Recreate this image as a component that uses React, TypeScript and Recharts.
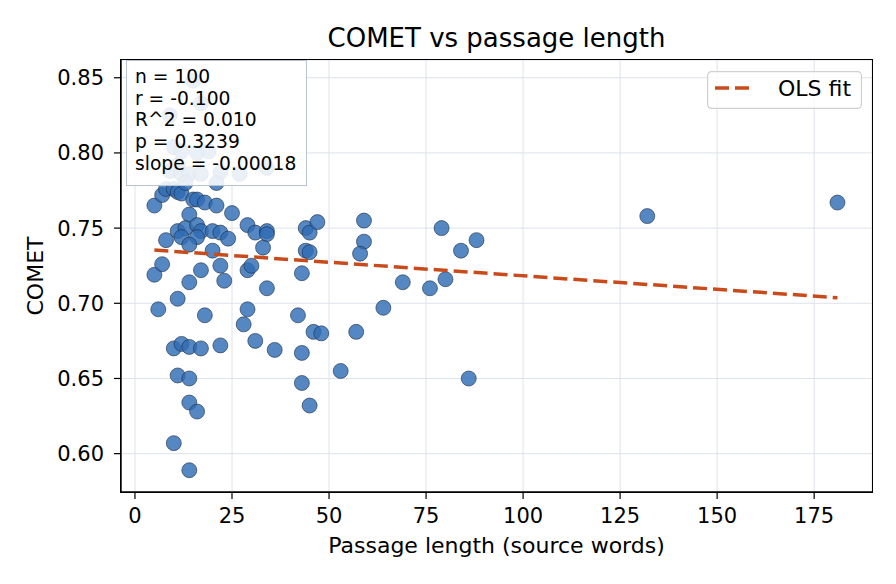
import React from 'react';
import {
  ScatterChart,
  Scatter,
  XAxis,
  YAxis,
  CartesianGrid,
} from 'recharts';

// passage length (source words) per item
const passageLength = [
  5, 5, 6, 7, 7, 8, 8, 10, 11, 12,
  15, 16, 18, 21, 25, 14, 29, 31, 34, 34,
  33, 11, 13, 16, 17, 20, 22, 24, 12, 16,
  14, 20, 17, 22, 14, 23, 29, 30, 34, 43,
  11, 18, 29, 28, 31, 36, 42, 46, 48, 43,
  43, 45, 53, 10, 12, 14, 17, 22, 11, 14,
  14, 16, 10, 14, 44, 45, 47, 59, 44, 45,
  59, 58, 79, 84, 88, 69, 76, 80, 64, 57,
  86, 132, 181, 15, 17, 9, 10, 12, 16, 19,
  11, 9, 12, 14, 17, 22, 27, 34, 21, 13,
];

// COMET score per item
const cometScore = [
  0.765, 0.719, 0.696, 0.726, 0.772, 0.776, 0.742, 0.776, 0.774, 0.773,
  0.769, 0.769, 0.767, 0.765, 0.760, 0.759, 0.752, 0.747, 0.748, 0.746,
  0.737, 0.748, 0.750, 0.752, 0.748, 0.748, 0.747, 0.743, 0.744, 0.744,
  0.739, 0.735, 0.722, 0.725, 0.714, 0.715, 0.722, 0.725, 0.710, 0.720,
  0.703, 0.692, 0.696, 0.686, 0.675, 0.669, 0.692, 0.681, 0.680, 0.667,
  0.647, 0.632, 0.655, 0.670, 0.673, 0.671, 0.670, 0.672, 0.652, 0.650,
  0.634, 0.628, 0.607, 0.589, 0.750, 0.747, 0.754, 0.755, 0.735, 0.734,
  0.741, 0.733, 0.750, 0.735, 0.742, 0.714, 0.710, 0.716, 0.697, 0.681,
  0.650, 0.758, 0.767, 0.848, 0.833, 0.825, 0.804, 0.801, 0.800, 0.801,
  0.792, 0.788, 0.786, 0.786, 0.786, 0.787, 0.786, 0.790, 0.780, 0.780,
];

// OLS fit line end points
const fitLength = [5, 181];
const fitComet = [0.7354, 0.7037];

const xTicks = [0, 25, 50, 75, 100, 125, 150, 175];
const yTicks = [0.6, 0.65, 0.7, 0.75, 0.8, 0.85];

const statLines = ['n = 100', 'r = -0.100', 'R^2 = 0.010', 'p = 0.3239', 'slope = -0.00018'];

const X_DOMAIN: [number, number] = [-3.6, 189.9];
const Y_DOMAIN: [number, number] = [0.5745, 0.8618];

const FONT = '"DejaVu Sans", sans-serif';
const POINT_FILL = '#306cb5';
const FIT_COLOR = '#c94b1b';

const points = passageLength.map((x, i) => ({ x, y: cometScore[i] }));
const fitPoints = fitLength.map((x, i) => ({ x, y: fitComet[i] }));

const Dot = (props: any) => (
  <circle
    cx={props.cx}
    cy={props.cy}
    r={7.5}
    fill={POINT_FILL}
    fillOpacity={0.82}
    stroke="#1c2c40"
    strokeOpacity={0.85}
    strokeWidth={0.7}
  />
);

const NoDot = () => <g />;

export default function App() {
  return (
    <div style={{ position: 'relative', width: 880, height: 568, fontFamily: FONT }}>
      <ScatterChart width={880} height={568} margin={{ top: 52, right: 16, bottom: 0, left: 0 }}>
        <CartesianGrid stroke="#dde2eb" strokeWidth={1} />
        <XAxis
          dataKey="x"
          type="number"
          domain={X_DOMAIN}
          ticks={xTicks}
          allowDataOverflow
          height={84}
          tickSize={7}
          tickMargin={9}
          tick={{ fontSize: 21, fill: '#000', fontFamily: FONT }}
          tickLine={{ stroke: '#000', strokeWidth: 1.2 }}
          axisLine={{ stroke: '#000', strokeWidth: 1.4 }}
          label={{ value: 'Passage length (source words)', position: 'insideBottom', offset: 23, fontSize: 22, fill: '#000', fontFamily: FONT }}
        />
        <YAxis
          dataKey="y"
          type="number"
          domain={Y_DOMAIN}
          ticks={yTicks}
          allowDataOverflow
          width={113}
          tickSize={7}
          tickMargin={10}
          tickFormatter={(v: number) => v.toFixed(2)}
          tick={{ fontSize: 21, fill: '#000', fontFamily: FONT }}
          tickLine={{ stroke: '#000', strokeWidth: 1.2 }}
          axisLine={{ stroke: '#000', strokeWidth: 1.4 }}
          label={{ value: 'COMET', angle: -90, position: 'insideLeft', offset: 27, fontSize: 22, fill: '#000', fontFamily: FONT, style: { textAnchor: 'middle' } }}
        />
        <Scatter data={points} shape={Dot} isAnimationActive={false} />
        <Scatter
          data={fitPoints}
          shape={NoDot}
          line={{ stroke: FIT_COLOR, strokeWidth: 3.5, strokeDasharray: '14 6' }}
          lineType="joint"
          isAnimationActive={false}
        />
      </ScatterChart>

      {/* axes frame */}
      <div
        style={{
          position: 'absolute',
          left: 112.3,
          top: 51.3,
          width: 752.4,
          height: 433.4,
          boxSizing: 'border-box',
          border: '1.4px solid #000',
          pointerEvents: 'none',
        }}
      />

      <div
        style={{
          position: 'absolute',
          left: 113,
          width: 751,
          top: 17,
          textAlign: 'center',
          fontSize: 26,
          lineHeight: '26px',
          color: '#000',
        }}
      >
        COMET vs passage length
      </div>

      <div
        style={{
          position: 'absolute',
          left: 118,
          top: 52,
          width: 181,
          height: 126,
          boxSizing: 'border-box',
          border: '1.5px solid #b8c4d0',
          background: 'rgba(255,255,255,0.88)',
          padding: '5px 0 0 8px',
          fontSize: 18.7,
          lineHeight: '21.7px',
          color: '#000',
          whiteSpace: 'pre',
        }}
      >
        {statLines.map((s) => (
          <div key={s}>{s}</div>
        ))}
      </div>

      <div style={{ position: 'absolute', left: 699, top: 63 }}>
        <svg width={156} height={39} style={{ display: 'block' }}>
          <rect x={0.6} y={0.6} width={153.8} height={36.8} rx={4} fill="#fff" fillOpacity={0.8} stroke="#d0d0d0" strokeWidth={1.2} />
          <line x1={8} x2={47} y1={17} y2={17} stroke={FIT_COLOR} strokeWidth={3.5} strokeDasharray="14 6" />
          <text x={71} y={25} fontSize={22} fontFamily={FONT} fill="#000">OLS fit</text>
        </svg>
      </div>
    </div>
  );
}
